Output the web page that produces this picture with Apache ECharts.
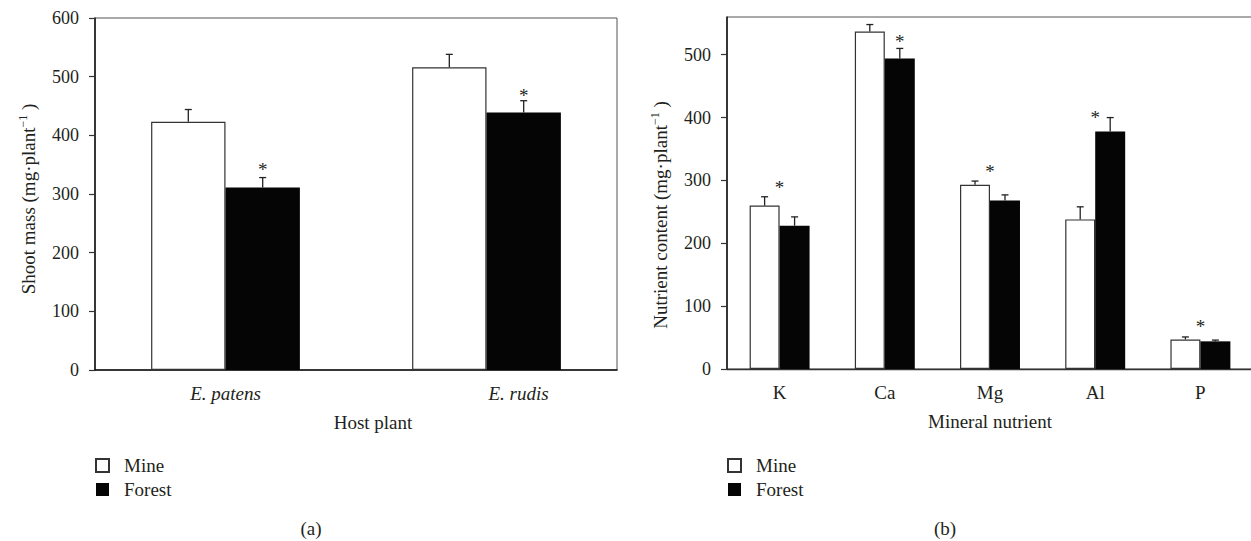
<!DOCTYPE html>
<html>
<head>
<meta charset="utf-8">
<script src="https://cdn.jsdelivr.net/npm/echarts@6/dist/echarts.min.js"></script>
<style>
html,body{margin:0;padding:0;background:#fff;}
#c{width:1251px;height:541px;}
</style>
</head>
<body>
<div id="c"></div>
<script>
// ---- data (a): shoot mass ----
const hostPlants = ['E. patens', 'E. rudis'];
const shootMine = [423, 516];
const shootMineErr = [21, 22];
const shootForest = [311, 439];
const shootForestErr = [17, 20];
const shootStarLevel = [348, 475];
const shootStarOver = ['forest', 'forest'];
const shootTicks = [0, 100, 200, 300, 400, 500, 600];

// ---- data (b): nutrient content ----
const nutrients = ['K', 'Ca', 'Mg', 'Al', 'P'];
const nutMine = [260, 537, 293, 238, 47];
const nutMineErr = [14, 11, 6, 20, 4];
const nutForest = [228, 494, 268, 378, 44];
const nutForestErr = [14, 16, 9, 22, 2];
const nutStarLevel = [295, 527, 320, 407, 74];
const nutStarOver = ['group', 'forest', 'group', 'group', 'group'];
const nutTicks = [0, 100, 200, 300, 400, 500];

const FONT = '"Liberation Serif", "Times New Roman", serif';
const TXT = '#231f20';
const GAP = 0.43;
const FS = 19;      // category labels, axis names, legend
const FS_TICK = 18; // numeric tick labels

const chart = echarts.init(document.getElementById('c'), null, {renderer: 'svg'});

function errSeries(name, vals, errs, side, gi) {
  return {
    type: 'custom', name: name + ' err', xAxisIndex: gi, yAxisIndex: gi, z: 5,
    silent: true, legendHoverLink: false,
    data: vals.map((v, i) => [i, v, errs[i]]),
    encode: {x: 0, y: 1},
    renderItem: function (params, api) {
      const cat = api.value(0), v = api.value(1), e = api.value(2);
      const band = api.size([1, 0])[0];
      const barW = band * (1 - GAP) / 2;
      const c = api.coord([cat, v]);
      const x = c[0] + side * barW / 2;
      const top = api.coord([cat, v + e])[1];
      const st = {stroke: '#222', lineWidth: 1.3};
      return {type: 'group', children: [
        {type: 'line', shape: {x1: x, y1: c[1], x2: x, y2: top}, style: st},
        {type: 'line', shape: {x1: x - 3.5, y1: top, x2: x + 3.5, y2: top}, style: st}
      ]};
    }
  };
}

function starSeries(levels, over, gi) {
  return {
    type: 'custom', name: 'sig', xAxisIndex: gi, yAxisIndex: gi, z: 6, silent: true,
    data: levels.map((v, i) => [i, v, over[i] === 'forest' ? 1 : 0]),
    encode: {x: 0, y: 1},
    renderItem: function (params, api) {
      const cat = api.value(0), v = api.value(1), f = api.value(2);
      const band = api.size([1, 0])[0];
      const barW = band * (1 - GAP) / 2;
      const c = api.coord([cat, v]);
      return {type: 'text', x: c[0] + f * barW / 2, y: c[1] + 4,
        style: {text: '*', fill: TXT, font: '19px ' + FONT, textAlign: 'center', textVerticalAlign: 'middle'}};
    }
  };
}

function barSeries(name, vals, gi) {
  const mine = name === 'Mine';
  return {
    type: 'bar', name: name, xAxisIndex: gi, yAxisIndex: gi, data: vals,
    barGap: '0%', barCategoryGap: (GAP * 100) + '%',
    itemStyle: mine ? {color: '#ffffff', borderColor: '#333', borderWidth: 1.2} : {color: '#050505', borderColor: '#050505', borderWidth: 0},
    emphasis: {disabled: true}
  };
}

const axisLineStyle = {color: '#333', width: 1.3};
const tickStyle = {color: '#333', width: 1.2};
const tickLabelStyle = {fontFamily: FONT, fontSize: FS_TICK, color: TXT};
const catLabelStyle = {fontFamily: FONT, fontSize: FS, color: TXT};
const nameRich = {
  t: {fontFamily: FONT, fontSize: FS, color: TXT, lineHeight: 22},
  sup: {fontFamily: FONT, fontSize: 12, color: TXT, verticalAlign: 'top', lineHeight: 12}
};

const option = {
  backgroundColor: '#ffffff',
  animation: false,
  grid: [
    {left: 95, top: 18, width: 522, height: 352, show: true, borderColor: '#555', borderWidth: 1, containLabel: false, outerBoundsMode: 'none'},
    {left: 727, top: 17, width: 526, height: 352, show: true, borderColor: '#555', borderWidth: 1, containLabel: false, outerBoundsMode: 'none'}
  ],
  xAxis: [
    {type: 'category', gridIndex: 0, data: hostPlants,
     axisLine: {lineStyle: {color: '#111', width: 1.6}}, axisTick: {length: 6, lineStyle: tickStyle},
     axisLabel: Object.assign({}, catLabelStyle, {margin: 14,
       formatter: v => v === 'E. rudis' ? '{r|' + v + '}' : '{i|' + v + '}',
       rich: {i: {fontFamily: FONT, fontSize: FS, color: TXT, fontStyle: 'italic'},
              r: {fontFamily: FONT, fontSize: FS, color: TXT, fontStyle: 'italic', padding: [0, 0, 0, 64]}}}),
     name: 'Host plant', nameLocation: 'middle', nameGap: 43,
     nameTextStyle: {fontFamily: FONT, fontSize: FS, color: TXT, padding: [0, 0, 0, 34]}},
    {type: 'category', gridIndex: 1, data: nutrients,
     axisLine: {lineStyle: axisLineStyle}, axisTick: {length: 6, lineStyle: tickStyle},
     axisLabel: Object.assign({}, catLabelStyle, {margin: 14}),
     name: 'Mineral nutrient', nameLocation: 'middle', nameGap: 43,
     nameTextStyle: {fontFamily: FONT, fontSize: FS, color: TXT}}
  ],
  yAxis: [
    {type: 'value', gridIndex: 0, min: 0, max: 600, interval: 100,
     splitLine: {show: false},
     axisLine: {show: true, lineStyle: {color: '#111', width: 1.5}},
     axisTick: {show: true, length: 6, lineStyle: tickStyle, customValues: shootTicks},
     axisLabel: Object.assign({}, tickLabelStyle, {margin: 16, customValues: shootTicks}),
     name: '{t|Shoot mass (mg·plant}{sup|−1}{t| )}', nameLocation: 'middle', nameGap: 56,
     nameTextStyle: {rich: nameRich, padding: [0, 10, 0, 0]}},
    {type: 'value', gridIndex: 1, min: 0, max: 560, interval: 100,
     splitLine: {show: false},
     axisLine: {show: true, lineStyle: {color: '#111', width: 1.5}},
     axisTick: {show: true, length: 6, lineStyle: tickStyle, customValues: nutTicks},
     axisLabel: Object.assign({}, tickLabelStyle, {margin: 16, customValues: nutTicks}),
     name: '{t|Nutrient content (mg·plant}{sup|−1}{t| )}', nameLocation: 'middle', nameGap: 56,
     nameTextStyle: {rich: nameRich, padding: [0, 44, 0, 0]}}
  ],
  legend: [
    {data: ['Mine', 'Forest'], orient: 'vertical', left: 90, top: 451, icon: 'rect',
     itemWidth: 13, itemHeight: 13, itemGap: 5, selectedMode: false,
     textStyle: {fontFamily: FONT, fontSize: FS, color: TXT, padding: [0, 0, 0, 10]}},
    {data: ['Mine', 'Forest'], orient: 'vertical', left: 722, top: 451, icon: 'rect',
     itemWidth: 13, itemHeight: 13, itemGap: 5, selectedMode: false,
     textStyle: {fontFamily: FONT, fontSize: FS, color: TXT, padding: [0, 0, 0, 10]}}
  ],
  graphic: [
    {type: 'text', x: 311, y: 528, style: {text: '(a)', fill: TXT, font: FS + 'px ' + FONT, textAlign: 'center', textVerticalAlign: 'middle'}},
    {type: 'text', x: 945, y: 528, style: {text: '(b)', fill: TXT, font: FS + 'px ' + FONT, textAlign: 'center', textVerticalAlign: 'middle'}}
  ],
  series: [
    barSeries('Mine', shootMine, 0),
    barSeries('Forest', shootForest, 0),
    errSeries('Mine', shootMine, shootMineErr, -1, 0),
    errSeries('Forest', shootForest, shootForestErr, 1, 0),
    starSeries(shootStarLevel, shootStarOver, 0),
    barSeries('Mine', nutMine, 1),
    barSeries('Forest', nutForest, 1),
    errSeries('Mine', nutMine, nutMineErr, -1, 1),
    errSeries('Forest', nutForest, nutForestErr, 1, 1),
    starSeries(nutStarLevel, nutStarOver, 1)
  ]
};
chart.setOption(option);
</script>
</body>
</html>
